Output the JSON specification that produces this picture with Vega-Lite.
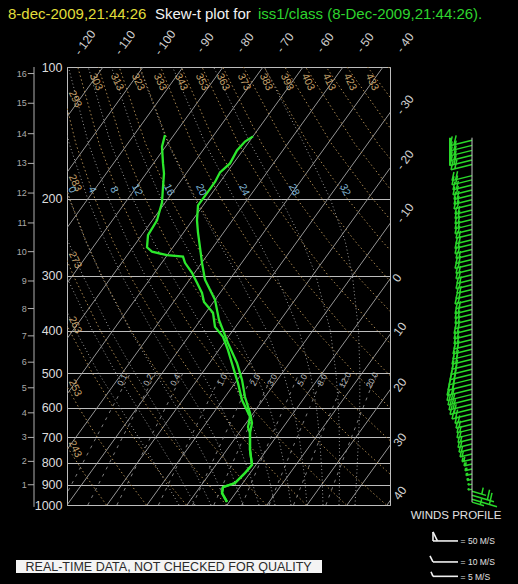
{
"$schema":"https://vega.github.io/schema/vega-lite/v6.json",
"width":323,"height":438,
"autosize":{"type":"none"},
"padding":{"left":67,"top":67,"right":128,"bottom":79},
"background":"#000000",
"config":{"view":{"stroke":"#bdbdbd","strokeWidth":1},"font":"Liberation Sans"},
"datasets":{
"iso":[
{"T":-110,"p":1000,"xs":-110},{"T":-110,"p":100,"xs":-31},
{"T":-100,"p":1000,"xs":-100},{"T":-100,"p":100,"xs":-21},
{"T":-90,"p":1000,"xs":-90},{"T":-90,"p":100,"xs":-11},
{"T":-80,"p":1000,"xs":-80},{"T":-80,"p":100,"xs":-1},
{"T":-70,"p":1000,"xs":-70},{"T":-70,"p":100,"xs":9},
{"T":-60,"p":1000,"xs":-60},{"T":-60,"p":100,"xs":19},
{"T":-50,"p":1000,"xs":-50},{"T":-50,"p":100,"xs":29},
{"T":-40,"p":1000,"xs":-40},{"T":-40,"p":100,"xs":39},
{"T":-30,"p":1000,"xs":-30},{"T":-30,"p":100,"xs":49},
{"T":-20,"p":1000,"xs":-20},{"T":-20,"p":100,"xs":59},
{"T":-10,"p":1000,"xs":-10},{"T":-10,"p":100,"xs":69},
{"T":0,"p":1000,"xs":0},{"T":0,"p":100,"xs":79},
{"T":10,"p":1000,"xs":10},{"T":10,"p":100,"xs":89},
{"T":20,"p":1000,"xs":20},{"T":20,"p":100,"xs":99},
{"T":30,"p":1000,"xs":30},{"T":30,"p":100,"xs":109},
{"T":40,"p":1000,"xs":40},{"T":40,"p":100,"xs":119}
],
"dry":[
{"th":243,"p":1000,"xs":-30.15},{"th":243,"p":850,"xs":-35.61},{"th":243,"p":700,"xs":-41.48},{"th":243,"p":600,"xs":-45.66},
{"th":253,"p":1000,"xs":-20.15},{"th":253,"p":850,"xs":-26.06},{"th":253,"p":700,"xs":-32.45},{"th":253,"p":600,"xs":-37.02},{"th":253,"p":500,"xs":-41.87},{"th":253,"p":400,"xs":-47.04},
{"th":263,"p":1000,"xs":-10.15},{"th":263,"p":850,"xs":-16.52},{"th":263,"p":700,"xs":-23.42},{"th":263,"p":600,"xs":-28.37},{"th":263,"p":500,"xs":-33.66},{"th":263,"p":400,"xs":-39.35},{"th":263,"p":300,"xs":-45.46},
{"th":273,"p":1000,"xs":-0.15},{"th":273,"p":850,"xs":-6.97},{"th":273,"p":700,"xs":-14.39},{"th":273,"p":600,"xs":-19.73},{"th":273,"p":500,"xs":-25.46},{"th":273,"p":400,"xs":-31.65},{"th":273,"p":300,"xs":-38.37},{"th":273,"p":250,"xs":-41.95},
{"th":283,"p":1000,"xs":9.85},{"th":283,"p":850,"xs":2.58},{"th":283,"p":700,"xs":-5.36},{"th":283,"p":600,"xs":-11.09},{"th":283,"p":500,"xs":-17.26},{"th":283,"p":400,"xs":-23.96},{"th":283,"p":300,"xs":-31.29},{"th":283,"p":250,"xs":-35.22},{"th":283,"p":200,"xs":-39.32},{"th":283,"p":150,"xs":-43.56},
{"th":293,"p":1000,"xs":19.85},{"th":293,"p":850,"xs":12.12},{"th":293,"p":700,"xs":3.67},{"th":293,"p":600,"xs":-2.45},{"th":293,"p":500,"xs":-9.06},{"th":293,"p":400,"xs":-16.26},{"th":293,"p":300,"xs":-24.2},{"th":293,"p":250,"xs":-28.49},{"th":293,"p":200,"xs":-33.01},{"th":293,"p":150,"xs":-37.75},{"th":293,"p":100,"xs":-42.48},
{"th":303,"p":1000,"xs":29.85},{"th":303,"p":850,"xs":21.67},{"th":303,"p":700,"xs":12.7},{"th":303,"p":600,"xs":6.19},{"th":303,"p":500,"xs":-0.86},{"th":303,"p":400,"xs":-8.57},{"th":303,"p":300,"xs":-17.11},{"th":303,"p":250,"xs":-21.77},{"th":303,"p":200,"xs":-26.7},{"th":303,"p":150,"xs":-31.94},{"th":303,"p":100,"xs":-37.31},
{"th":313,"p":1000,"xs":39.85},{"th":313,"p":850,"xs":31.21},{"th":313,"p":700,"xs":21.73},{"th":313,"p":600,"xs":14.83},{"th":313,"p":500,"xs":7.35},{"th":313,"p":400,"xs":-0.87},{"th":313,"p":300,"xs":-10.03},{"th":313,"p":250,"xs":-15.04},{"th":313,"p":200,"xs":-20.39},{"th":313,"p":150,"xs":-26.13},{"th":313,"p":100,"xs":-32.13},
{"th":323,"p":1000,"xs":49.85},{"th":323,"p":850,"xs":40.76},{"th":323,"p":700,"xs":30.76},{"th":323,"p":600,"xs":23.47},{"th":323,"p":500,"xs":15.55},{"th":323,"p":400,"xs":6.82},{"th":323,"p":300,"xs":-2.94},{"th":323,"p":250,"xs":-8.31},{"th":323,"p":200,"xs":-14.08},{"th":323,"p":150,"xs":-20.31},{"th":323,"p":100,"xs":-26.96},
{"th":333,"p":1000,"xs":59.85},{"th":333,"p":850,"xs":50.3},{"th":333,"p":700,"xs":39.79},{"th":333,"p":600,"xs":32.11},{"th":333,"p":500,"xs":23.75},{"th":333,"p":400,"xs":14.52},{"th":333,"p":300,"xs":4.15},{"th":333,"p":250,"xs":-1.59},{"th":333,"p":200,"xs":-7.77},{"th":333,"p":150,"xs":-14.5},{"th":333,"p":100,"xs":-21.78},
{"th":343,"p":850,"xs":59.85},{"th":343,"p":700,"xs":48.82},{"th":343,"p":600,"xs":40.75},{"th":343,"p":500,"xs":31.95},{"th":343,"p":400,"xs":22.21},{"th":343,"p":300,"xs":11.24},{"th":343,"p":250,"xs":5.14},{"th":343,"p":200,"xs":-1.46},{"th":343,"p":150,"xs":-8.69},{"th":343,"p":100,"xs":-16.6},
{"th":353,"p":700,"xs":57.85},{"th":353,"p":600,"xs":49.39},{"th":353,"p":500,"xs":40.15},{"th":353,"p":400,"xs":29.91},{"th":353,"p":300,"xs":18.32},{"th":353,"p":250,"xs":11.87},{"th":353,"p":200,"xs":4.85},{"th":353,"p":150,"xs":-2.88},{"th":353,"p":100,"xs":-11.43},
{"th":363,"p":600,"xs":58.03},{"th":363,"p":500,"xs":48.35},{"th":363,"p":400,"xs":37.6},{"th":363,"p":300,"xs":25.41},{"th":363,"p":250,"xs":18.6},{"th":363,"p":200,"xs":11.17},{"th":363,"p":150,"xs":2.94},{"th":363,"p":100,"xs":-6.25},
{"th":373,"p":500,"xs":56.56},{"th":373,"p":400,"xs":45.3},{"th":373,"p":300,"xs":32.5},{"th":373,"p":250,"xs":25.32},{"th":373,"p":200,"xs":17.48},{"th":373,"p":150,"xs":8.75},{"th":373,"p":100,"xs":-1.07},
{"th":383,"p":500,"xs":64.76},{"th":383,"p":400,"xs":52.99},{"th":383,"p":300,"xs":39.58},{"th":383,"p":250,"xs":32.05},{"th":383,"p":200,"xs":23.79},{"th":383,"p":150,"xs":14.56},{"th":383,"p":100,"xs":4.1},
{"th":393,"p":400,"xs":60.68},{"th":393,"p":300,"xs":46.67},{"th":393,"p":250,"xs":38.78},{"th":393,"p":200,"xs":30.1},{"th":393,"p":150,"xs":20.37},{"th":393,"p":100,"xs":9.28},
{"th":403,"p":400,"xs":68.38},{"th":403,"p":300,"xs":53.76},{"th":403,"p":250,"xs":45.5},{"th":403,"p":200,"xs":36.41},{"th":403,"p":150,"xs":26.19},{"th":403,"p":100,"xs":14.46},
{"th":413,"p":300,"xs":60.84},{"th":413,"p":250,"xs":52.23},{"th":413,"p":200,"xs":42.72},{"th":413,"p":150,"xs":32.0},{"th":413,"p":100,"xs":19.63},
{"th":423,"p":300,"xs":67.93},{"th":423,"p":250,"xs":58.96},{"th":423,"p":200,"xs":49.03},{"th":423,"p":150,"xs":37.81},{"th":423,"p":100,"xs":24.81},
{"th":433,"p":250,"xs":65.68},{"th":433,"p":200,"xs":55.34},{"th":433,"p":150,"xs":43.63},{"th":433,"p":100,"xs":29.98},
{"th":443,"p":200,"xs":61.66},{"th":443,"p":150,"xs":49.44},{"th":443,"p":100,"xs":35.16},
{"th":453,"p":150,"xs":55.25},{"th":453,"p":100,"xs":40.34}
],
"moist":[
{"tw":-12,"p":1000,"xs":-12},{"tw":-12,"p":850,"xs":-16.52},{"tw":-12,"p":700,"xs":-22.16},{"tw":-12,"p":500,"xs":-32.1},{"tw":-12,"p":400,"xs":-37.82},{"tw":-12,"p":300,"xs":-44.05},
{"tw":-8,"p":1000,"xs":-8},{"tw":-8,"p":850,"xs":-12.22},{"tw":-8,"p":700,"xs":-17.86},{"tw":-8,"p":500,"xs":-27.76},{"tw":-8,"p":400,"xs":-33.64},{"tw":-8,"p":300,"xs":-40.21},
{"tw":-4,"p":1000,"xs":-4},{"tw":-4,"p":850,"xs":-7.72},{"tw":-4,"p":700,"xs":-13.21},{"tw":-4,"p":500,"xs":-23.02},{"tw":-4,"p":400,"xs":-29.1},{"tw":-4,"p":300,"xs":-36.0},{"tw":-4,"p":250,"xs":-39.72},{"tw":-4,"p":200,"xs":-43.54},
{"tw":0,"p":1000,"xs":0},{"tw":0,"p":850,"xs":-3.32},{"tw":0,"p":700,"xs":-8.21},{"tw":0,"p":600,"xs":-12.52},{"tw":0,"p":500,"xs":-17.87},{"tw":0,"p":400,"xs":-24.16},{"tw":0,"p":300,"xs":-31.39},{"tw":0,"p":250,"xs":-35.34},{"tw":0,"p":200,"xs":-39.42},{"tw":0,"p":150,"xs":-43.66},
{"tw":4,"p":1000,"xs":4},{"tw":4,"p":850,"xs":1.18},{"tw":4,"p":700,"xs":-3.06},{"tw":4,"p":600,"xs":-7.07},{"tw":4,"p":500,"xs":-12.27},{"tw":4,"p":400,"xs":-18.7},{"tw":4,"p":300,"xs":-26.26},{"tw":4,"p":250,"xs":-30.41},{"tw":4,"p":200,"xs":-34.81},{"tw":4,"p":150,"xs":-39.41},{"tw":4,"p":100,"xs":-43.96},
{"tw":8,"p":1000,"xs":8},{"tw":8,"p":850,"xs":5.68},{"tw":8,"p":700,"xs":2.19},{"tw":8,"p":600,"xs":-1.37},{"tw":8,"p":500,"xs":-6.22},{"tw":8,"p":400,"xs":-12.55},{"tw":8,"p":300,"xs":-20.41},{"tw":8,"p":250,"xs":-24.83},{"tw":8,"p":200,"xs":-29.57},{"tw":8,"p":150,"xs":-34.58},{"tw":8,"p":100,"xs":-39.66},
{"tw":12,"p":1000,"xs":12},{"tw":12,"p":850,"xs":10.28},{"tw":12,"p":700,"xs":7.51},{"tw":12,"p":600,"xs":4.63},{"tw":12,"p":500,"xs":0.38},{"tw":12,"p":400,"xs":-5.66},{"tw":12,"p":300,"xs":-13.72},{"tw":12,"p":250,"xs":-18.45},{"tw":12,"p":200,"xs":-23.52},{"tw":12,"p":150,"xs":-29.01},{"tw":12,"p":100,"xs":-34.7},
{"tw":16,"p":1000,"xs":16},{"tw":16,"p":850,"xs":14.83},{"tw":16,"p":700,"xs":12.81},{"tw":16,"p":600,"xs":10.63},{"tw":16,"p":500,"xs":7.21},{"tw":16,"p":400,"xs":1.94},{"tw":16,"p":300,"xs":-6.03},{"tw":16,"p":250,"xs":-10.95},{"tw":16,"p":200,"xs":-16.47},{"tw":16,"p":150,"xs":-22.47},{"tw":16,"p":100,"xs":-28.88},
{"tw":20,"p":1000,"xs":20},{"tw":20,"p":850,"xs":19.31},{"tw":20,"p":700,"xs":18.04},{"tw":20,"p":600,"xs":16.56},{"tw":20,"p":500,"xs":14.13},{"tw":20,"p":400,"xs":9.94},{"tw":20,"p":300,"xs":2.76},{"tw":20,"p":250,"xs":-2.22},{"tw":20,"p":200,"xs":-8.08},{"tw":20,"p":150,"xs":-14.7},{"tw":20,"p":100,"xs":-21.95},
{"tw":24,"p":1000,"xs":24},{"tw":24,"p":850,"xs":23.75},{"tw":24,"p":700,"xs":23.14},{"tw":24,"p":600,"xs":22.38},{"tw":24,"p":500,"xs":20.83},{"tw":24,"p":400,"xs":18.04},{"tw":24,"p":300,"xs":12.36},{"tw":24,"p":250,"xs":7.96},{"tw":24,"p":200,"xs":1.86},{"tw":24,"p":150,"xs":-5.36},{"tw":24,"p":100,"xs":-13.6},
{"tw":28,"p":1000,"xs":28},{"tw":28,"p":850,"xs":28.15},{"tw":28,"p":700,"xs":28.09},{"tw":28,"p":600,"xs":27.88},{"tw":28,"p":500,"xs":27.25},{"tw":28,"p":400,"xs":25.84},{"tw":28,"p":300,"xs":22.26},{"tw":28,"p":250,"xs":18.86},{"tw":28,"p":200,"xs":13.47},{"tw":28,"p":150,"xs":5.97},{"tw":28,"p":100,"xs":-3.35},
{"tw":32,"p":1000,"xs":32},{"tw":32,"p":850,"xs":32.45},{"tw":32,"p":700,"xs":32.89},{"tw":32,"p":600,"xs":33.18},{"tw":32,"p":500,"xs":33.23},{"tw":32,"p":400,"xs":32.89},{"tw":32,"p":300,"xs":31.36},{"tw":32,"p":250,"xs":29.56},{"tw":32,"p":200,"xs":25.82},{"tw":32,"p":150,"xs":19.29},{"tw":32,"p":100,"xs":9.33}
],
"mix":[
{"w":0.1,"p":1000,"xs":-41.57},{"w":0.1,"p":700,"xs":-32.66},{"w":0.1,"p":500,"xs":-24.15},
{"w":0.2,"p":1000,"xs":-34.79},{"w":0.2,"p":700,"xs":-26.1},{"w":0.2,"p":500,"xs":-17.8},
{"w":0.4,"p":1000,"xs":-27.53},{"w":0.4,"p":700,"xs":-19.09},{"w":0.4,"p":500,"xs":-11.01},
{"w":1,"p":1000,"xs":-17.13},{"w":1,"p":700,"xs":-9.06},{"w":1,"p":500,"xs":-1.31},
{"w":2,"p":1000,"xs":-8.58},{"w":2,"p":700,"xs":-0.83},{"w":2,"p":500,"xs":6.63},
{"w":3,"p":1000,"xs":-3.28},{"w":3,"p":700,"xs":4.26},{"w":3,"p":500,"xs":11.55},
{"w":5,"p":1000,"xs":3.72},{"w":5,"p":700,"xs":11.0},{"w":5,"p":500,"xs":18.03},
{"w":8,"p":1000,"xs":10.51},{"w":8,"p":700,"xs":17.51},{"w":8,"p":500,"xs":24.31},
{"w":12,"p":1000,"xs":16.64},{"w":12,"p":700,"xs":23.39},{"w":12,"p":500,"xs":29.96},
{"w":20,"p":1000,"xs":24.72},{"w":20,"p":700,"xs":31.13},{"w":20,"p":500,"xs":37.39}
],
"trace":[
{"v":"T","p":984,"xs":0},{"v":"T","p":939,"xs":-1.25},{"v":"T","p":910,"xs":-1},{"v":"T","p":891,"xs":2},{"v":"T","p":845,"xs":4.5},{"v":"T","p":810,"xs":6.25},{"v":"T","p":749,"xs":5.75},{"v":"T","p":685,"xs":5.75},{"v":"T","p":650,"xs":6.25},{"v":"T","p":617,"xs":5.75},{"v":"T","p":567,"xs":4.5},{"v":"T","p":518,"xs":3.75},{"v":"T","p":474,"xs":2.5},{"v":"T","p":427,"xs":0.25},{"v":"T","p":378,"xs":-2},{"v":"T","p":340,"xs":-3},{"v":"T","p":306,"xs":-5.5},{"v":"T","p":280,"xs":-6.25},{"v":"T","p":258,"xs":-6.75},{"v":"T","p":239,"xs":-7.25},{"v":"T","p":224,"xs":-7.5},{"v":"T","p":207,"xs":-7.25},{"v":"T","p":194,"xs":-5},{"v":"T","p":183,"xs":-3},{"v":"T","p":174,"xs":-1.75},{"v":"T","p":166,"xs":0.75},{"v":"T","p":155,"xs":2.5},{"v":"T","p":148,"xs":4.5},{"v":"T","p":144,"xs":6.5},
{"v":"Td","p":984,"xs":0},{"v":"Td","p":939,"xs":-1.25},{"v":"Td","p":910,"xs":-1},{"v":"Td","p":891,"xs":2},{"v":"Td","p":845,"xs":4.5},{"v":"Td","p":810,"xs":6.25},{"v":"Td","p":749,"xs":5.75},{"v":"Td","p":685,"xs":5.75},{"v":"Td","p":664,"xs":5.25},{"v":"Td","p":629,"xs":5.75},{"v":"Td","p":576,"xs":3.75},{"v":"Td","p":527,"xs":2.75},{"v":"Td","p":484,"xs":1.5},{"v":"Td","p":443,"xs":0.25},{"v":"Td","p":413,"xs":-1},{"v":"Td","p":392,"xs":-3},{"v":"Td","p":364,"xs":-3.5},{"v":"Td","p":344,"xs":-5.75},{"v":"Td","p":328,"xs":-6.25},{"v":"Td","p":311,"xs":-7.5},{"v":"Td","p":295,"xs":-8.75},{"v":"Td","p":280,"xs":-10.5},{"v":"Td","p":271,"xs":-11},{"v":"Td","p":269,"xs":-15},{"v":"Td","p":264,"xs":-18.75},{"v":"Td","p":258,"xs":-20},{"v":"Td","p":242,"xs":-19.75},{"v":"Td","p":224,"xs":-17.5},{"v":"Td","p":204,"xs":-16.25},{"v":"Td","p":188,"xs":-16},{"v":"Td","p":175,"xs":-15.75},{"v":"Td","p":166,"xs":-16},{"v":"Td","p":152,"xs":-16.25},{"v":"Td","p":143,"xs":-15.5}
],
"km":[
{"km":"1","p":899,"xs":-49.8,"xs2":-48.25},{"km":"2","p":795,"xs":-49.8,"xs2":-48.25},{"km":"3","p":701,"xs":-49.8,"xs2":-48.25},{"km":"4","p":616,"xs":-49.8,"xs2":-48.25},{"km":"5","p":540,"xs":-49.8,"xs2":-48.25},{"km":"6","p":472,"xs":-49.8,"xs2":-48.25},{"km":"7","p":411,"xs":-49.8,"xs2":-48.25},{"km":"8","p":356,"xs":-49.8,"xs2":-48.25},{"km":"9","p":308,"xs":-49.8,"xs2":-48.25},{"km":"10","p":264,"xs":-49.8,"xs2":-48.25},{"km":"11","p":227,"xs":-49.8,"xs2":-48.25},{"km":"12","p":194,"xs":-49.8,"xs2":-48.25},{"km":"13","p":166,"xs":-49.8,"xs2":-48.25},{"km":"14","p":142,"xs":-49.8,"xs2":-48.25},{"km":"15","p":121,"xs":-49.8,"xs2":-48.25},{"km":"16","p":103.5,"xs":-49.8,"xs2":-48.25}
],
"kmaxis":[{"p":100,"p2":1010,"xs":-48.25}],
"isolab":[
{"t":"- 120","xs":-35.5,"p":88},{"t":"- 110","xs":-25.5,"p":88},{"t":"- 100","xs":-15.5,"p":88},{"t":"- 90","xs":-5.5,"p":88},{"t":"- 80","xs":4.5,"p":88},{"t":"- 70","xs":14.5,"p":88},{"t":"- 60","xs":24.5,"p":88},{"t":"- 50","xs":34.5,"p":88},{"t":"- 40","xs":44.5,"p":88},
{"t":"- 30","xs":44.5,"p":122},{"t":"- 20","xs":44.5,"p":163},{"t":"- 10","xs":44.5,"p":215.5},{"t":"0","xs":42.5,"p":303},{"t":"10","xs":43.25,"p":396.5},{"t":"20","xs":43.25,"p":532},{"t":"30","xs":43.25,"p":710},{"t":"40","xs":43.25,"p":939}
],
"thlab":[
{"t":"293","xs":-38,"p":118.3},{"t":"283","xs":-38,"p":184},{"t":"273","xs":-38,"p":275.8},{"t":"263","xs":-38,"p":388.2},{"t":"253","xs":-38,"p":540.5},{"t":"243","xs":-38,"p":745.2},
{"t":"303","xs":-32.75,"p":108.2},{"t":"313","xs":-27.5,"p":108.2},{"t":"323","xs":-22.25,"p":108.2},{"t":"333","xs":-16.75,"p":108.2},{"t":"343","xs":-11.5,"p":108.2},{"t":"353","xs":-6.25,"p":108.2},{"t":"363","xs":-1,"p":108.2},{"t":"373","xs":4.25,"p":108.2},{"t":"383","xs":9.75,"p":108.2},{"t":"393","xs":15,"p":108.2},{"t":"403","xs":20.25,"p":108.2},{"t":"413","xs":25.5,"p":108.2},{"t":"423","xs":30.75,"p":108.2},{"t":"433","xs":36.25,"p":108.2}
],
"twlab":[
{"t":"0","xs":-38.75,"p":190.8},{"t":"4","xs":-33.75,"p":190.8},{"t":"8","xs":-28.25,"p":190.8},{"t":"12","xs":-22.5,"p":190.8},{"t":"16","xs":-14.5,"p":190.8},{"t":"20","xs":-6.5,"p":190.8},{"t":"24","xs":4.25,"p":190.8},{"t":"28","xs":16.75,"p":190.8},{"t":"32","xs":29.5,"p":190.8}
],
"mixlab":[
{"t":"0.1","xs":-26.25,"p":518},{"t":"0.2","xs":-19.75,"p":518},{"t":"0.4","xs":-13,"p":518},{"t":"1.0","xs":-1.25,"p":518},{"t":"2.0","xs":7,"p":518},{"t":"3.0","xs":11.25,"p":518},{"t":"5.0","xs":18.75,"p":518},{"t":"8.0","xs":23.75,"p":518},{"t":"12.0","xs":29.5,"p":518},{"t":"20.0","xs":36.25,"p":518}
],
"staff":[{"p":145,"p2":985,"xs":61.25}],
"bracket":[{"p":145,"p2":168,"xs":55.75}],
"windW":[
{"p":147,"spd":22,"xs":61.25},{"p":151,"spd":22,"xs":61.25},{"p":155,"spd":22,"xs":61.25},{"p":159,"spd":22,"xs":61.25},{"p":163,"spd":22,"xs":61.25},{"p":167,"spd":21,"xs":61.25},
{"p":177,"spd":20,"xs":61.25},{"p":181,"spd":20,"xs":61.25},{"p":186,"spd":19,"xs":61.25},{"p":191,"spd":19,"xs":61.25},{"p":196,"spd":18,"xs":61.25},{"p":201,"spd":18,"xs":61.25},{"p":206,"spd":18,"xs":61.25},{"p":212,"spd":17,"xs":61.25},{"p":217,"spd":17,"xs":61.25},{"p":223,"spd":17,"xs":61.25},{"p":229,"spd":17,"xs":61.25},{"p":235,"spd":17,"xs":61.25},{"p":241,"spd":16,"xs":61.25},{"p":248,"spd":16,"xs":61.25},{"p":254,"spd":17,"xs":61.25},{"p":261,"spd":17,"xs":61.25},{"p":268,"spd":16,"xs":61.25},{"p":275,"spd":16,"xs":61.25},{"p":282,"spd":17,"xs":61.25},{"p":290,"spd":16,"xs":61.25},{"p":298,"spd":16,"xs":61.25},{"p":306,"spd":15,"xs":61.25},{"p":314,"spd":16,"xs":61.25},{"p":322,"spd":15,"xs":61.25},{"p":331,"spd":16,"xs":61.25},{"p":340,"spd":17,"xs":61.25},{"p":349,"spd":16,"xs":61.25},{"p":358,"spd":17,"xs":61.25},{"p":367,"spd":17,"xs":61.25},{"p":377,"spd":17,"xs":61.25},{"p":387,"spd":17,"xs":61.25},{"p":397,"spd":18,"xs":61.25},{"p":408,"spd":18,"xs":61.25},{"p":419,"spd":18,"xs":61.25},{"p":430,"spd":18,"xs":61.25},{"p":441,"spd":19,"xs":61.25},{"p":453,"spd":19,"xs":61.25},{"p":465,"spd":20,"xs":61.25},{"p":477,"spd":20,"xs":61.25},{"p":490,"spd":21,"xs":61.25},{"p":503,"spd":22,"xs":61.25},{"p":516,"spd":23,"xs":61.25},{"p":530,"spd":24,"xs":61.25},{"p":544,"spd":25,"xs":61.25},{"p":559,"spd":25,"xs":61.25},{"p":573,"spd":24,"xs":61.25},{"p":589,"spd":23,"xs":61.25},{"p":604,"spd":22,"xs":61.25},{"p":620,"spd":20,"xs":61.25},{"p":637,"spd":17,"xs":61.25},{"p":654,"spd":16,"xs":61.25},{"p":671,"spd":15,"xs":61.25},{"p":689,"spd":15,"xs":61.25},{"p":707,"spd":14,"xs":61.25},{"p":726,"spd":14,"xs":61.25},{"p":745,"spd":13,"xs":61.25},{"p":765,"spd":12,"xs":61.25},{"p":786,"spd":10,"xs":61.25},{"p":806,"spd":8,"xs":61.25},{"p":828,"spd":7,"xs":61.25},{"p":850,"spd":6,"xs":61.25},{"p":873,"spd":5,"xs":61.25},{"p":896,"spd":4,"xs":61.25},{"p":920,"spd":4,"xs":61.25}
],
"windE":[{"p":930,"spd":14,"xs":61.25},{"p":950,"spd":22,"xs":61.25},{"p":970,"spd":25,"xs":61.25},{"p":985,"spd":12,"xs":61.25}],
"legLines":[
{"xs":51.5,"xs2":51.5,"p":1152,"p2":1208},
{"xs":51.5,"xs2":52.6,"p":1152,"p2":1208},
{"xs":51.5,"xs2":57.75,"p":1208,"p2":1208},
{"xs":50.75,"xs2":51.5,"p":1307,"p2":1349},
{"xs":51.5,"xs2":57.75,"p":1349,"p2":1349},
{"xs":51,"xs2":51.5,"p":1420,"p2":1455},
{"xs":51.5,"xs2":57.75,"p":1455,"p2":1455}
],
"legTitle":[{"t":"WINDS PROFILE","xs":57.25,"p":1059.5}],
"legText":[{"t":"= 50 M/S","xs":58.4,"p":1210},{"t":"= 10 M/S","xs":58.4,"p":1351},{"t":"= 5 M/S","xs":58.4,"p":1457}],
"box":[{"xs":-52.75,"xs2":23.75,"p":1335,"p2":1430}],
"boxText":[{"t":"REAL-TIME DATA, NOT CHECKED FOR QUALITY","xs":-14.6,"p":1382}],
"title":[
{"t":"8-dec-2009,21:44:26","part":"date","xs":-54.75,"p":75.7},
{"t":"Skew-t plot for","part":"label","xs":-18,"p":75.7},
{"t":"iss1/class (8-Dec-2009,21:44:26).","part":"station","xs":7.75,"p":75.7}
]
},
"encoding":{
"x":{"field":"xs","type":"quantitative","scale":{"domain":[-40,40.75],"nice":false,"zero":false},"axis":null},
"y":{"field":"p","type":"quantitative","scale":{"type":"log","domain":[100,1000],"reverse":true,"nice":false},
"axis":{"values":[100,200,300,400,500,600,700,800,900,1000],"format":"d","title":null,"ticks":false,"domain":false,"grid":true,"gridColor":"#bdbdbd","gridWidth":1,"labelColor":"#dcdcdc","labelFontSize":12.5,"labelFont":"Liberation Sans","labelPadding":5,"labelOverlap":false,"labelBound":false}}
},
"layer":[
{"data":{"name":"iso"},"mark":{"type":"line","clip":true,"color":"#a6a6a6","strokeWidth":0.9},
 "encoding":{"detail":{"field":"T","type":"nominal"},"order":{"field":"p","type":"quantitative","sort":"descending"}}},
{"data":{"name":"dry"},"mark":{"type":"line","clip":true,"color":"#a8864f","strokeWidth":1,"strokeDash":[1.5,2.5]},
 "encoding":{"detail":{"field":"th","type":"nominal"},"order":{"field":"p","type":"quantitative","sort":"descending"}}},
{"data":{"name":"moist"},"mark":{"type":"line","clip":true,"color":"#9a9a9a","strokeWidth":1,"strokeDash":[1,2.5]},
 "encoding":{"detail":{"field":"tw","type":"nominal"},"order":{"field":"p","type":"quantitative","sort":"descending"}}},
{"data":{"name":"mix"},"mark":{"type":"line","clip":true,"color":"#8e8e8e","strokeWidth":0.9,"strokeDash":[3,5]},
 "encoding":{"detail":{"field":"w","type":"nominal"},"order":{"field":"p","type":"quantitative","sort":"descending"}}},
{"data":{"name":"trace"},"mark":{"type":"line","clip":true,"color":"#2ce82c","strokeWidth":2.3},
 "encoding":{"detail":{"field":"v","type":"nominal"},"order":{"field":"p","type":"quantitative","sort":"descending"}}},
{"data":{"name":"kmaxis"},"mark":{"type":"rule","color":"#b0b0b0","strokeWidth":1},
 "encoding":{"y2":{"field":"p2"}}},
{"data":{"name":"km"},"mark":{"type":"rule","color":"#b0b0b0","strokeWidth":1},
 "encoding":{"x2":{"field":"xs2"}}},
{"data":{"name":"km"},"mark":{"type":"text","color":"#aaaaaa","fontSize":9,"align":"right","baseline":"middle","dx":-1,"font":"Liberation Sans"},
 "encoding":{"text":{"field":"km"}}},
{"data":{"name":"isolab"},"mark":{"type":"text","color":"#d0d0d0","fontSize":12,"align":"center","baseline":"middle","angle":-54,"font":"Liberation Sans"},
 "encoding":{"text":{"field":"t"}}},
{"data":{"name":"thlab"},"mark":{"type":"text","color":"#c4a06a","fontSize":10.5,"align":"center","baseline":"middle","angle":64,"font":"Liberation Sans"},
 "encoding":{"text":{"field":"t"}}},
{"data":{"name":"twlab"},"mark":{"type":"text","color":"#7fb4d4","fontSize":10.5,"align":"center","baseline":"middle","angle":64,"font":"Liberation Sans"},
 "encoding":{"text":{"field":"t"}}},
{"data":{"name":"mixlab"},"mark":{"type":"text","color":"#c0c0c0","fontSize":8.5,"align":"center","baseline":"middle","angle":-62,"font":"Liberation Sans"},
 "encoding":{"text":{"field":"t"}}},
{"data":{"name":"windW"},"mark":{"type":"point","shape":"M0,0L-1,0.25M-1,0.25L-0.9,-0.18M-0.82,0.2L-0.72,-0.22","filled":false,"color":"#2ad82a","strokeWidth":1.5,"opacity":1},
 "encoding":{"size":{"field":"spd","type":"quantitative","scale":{"type":"pow","exponent":2,"domain":[0,25],"range":[0,2500]},"legend":null}}},
{"data":{"name":"windE"},"mark":{"type":"point","shape":"M0,0L1,0.3M0.7,0.2L0.8,-0.25","filled":false,"color":"#2ad82a","strokeWidth":1.5,"opacity":1},
 "encoding":{"size":{"field":"spd","type":"quantitative","scale":{"type":"pow","exponent":2,"domain":[0,25],"range":[0,2500]},"legend":null}}},
{"data":{"name":"bracket"},"mark":{"type":"rule","color":"#2ad82a","strokeWidth":2},
 "encoding":{"y2":{"field":"p2"}}},
{"data":{"name":"staff"},"mark":{"type":"rule","color":"#c8c8c8","strokeWidth":1},
 "encoding":{"y2":{"field":"p2"}}},
{"data":{"name":"legLines"},"mark":{"type":"rule","color":"#f0f0f0","strokeWidth":1.6},
 "encoding":{"x2":{"field":"xs2"},"y2":{"field":"p2"}}},
{"data":{"name":"legTitle"},"mark":{"type":"text","color":"#e0e0e0","fontSize":11.5,"align":"center","baseline":"middle","font":"Liberation Sans"},
 "encoding":{"text":{"field":"t"}}},
{"data":{"name":"legText"},"mark":{"type":"text","color":"#e0e0e0","fontSize":8.5,"align":"left","baseline":"middle","font":"Liberation Sans"},
 "encoding":{"text":{"field":"t"}}},
{"data":{"name":"box"},"mark":{"type":"rect","color":"#f4f4f4"},
 "encoding":{"x2":{"field":"xs2"},"y2":{"field":"p2"}}},
{"data":{"name":"boxText"},"mark":{"type":"text","color":"#2a2a2a","fontSize":12.5,"align":"center","baseline":"middle","font":"Liberation Sans"},
 "encoding":{"text":{"field":"t"}}},
{"data":{"name":"title"},"mark":{"type":"text","fontSize":15,"align":"left","baseline":"middle","font":"Liberation Sans"},
 "encoding":{"text":{"field":"t"},"color":{"field":"part","type":"nominal","scale":{"domain":["date","label","station"],"range":["#e2de3a","#f2f2f2","#2ed42e"]},"legend":null}}}
]
}
